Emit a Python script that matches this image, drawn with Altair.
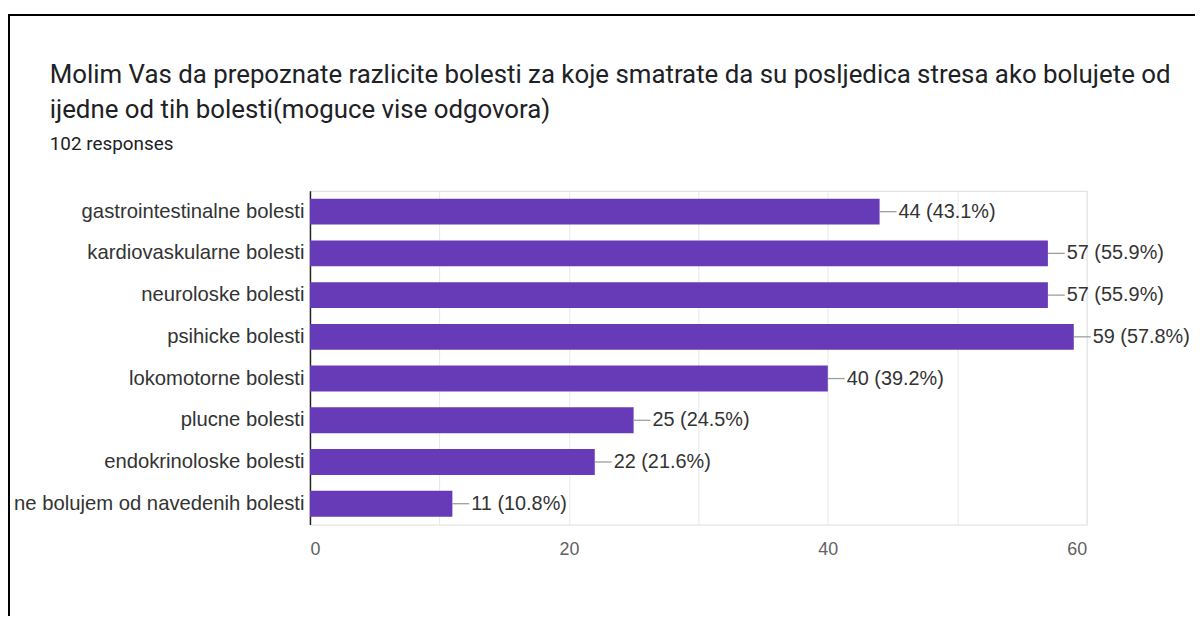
import altair as alt
import pandas as pd

categories = [
    "gastrointestinalne bolesti",
    "kardiovaskularne bolesti",
    "neuroloske bolesti",
    "psihicke bolesti",
    "lokomotorne bolesti",
    "plucne bolesti",
    "endokrinoloske bolesti",
    "ne bolujem od navedenih bolesti",
]
counts = [44, 57, 57, 59, 40, 25, 22, 11]
percents = ["43.1%", "55.9%", "55.9%", "57.8%", "39.2%", "24.5%", "21.6%", "10.8%"]

title_line1 = "Molim Vas da prepoznate razlicite bolesti za koje smatrate da su posljedica stresa ako bolujete od"
title_line2 = "ijedne od tih bolesti(moguce vise odgovora)"
subtitle = "102 responses"

df = pd.DataFrame({
    "category": categories,
    "count": counts,
    "label": [f"{c} ({p})" for c, p in zip(counts, percents)],
})

W, H = 782, 336
PAD_L, PAD_T = 304, 182
PURPLE = "#673ab7"
LABEL_FONT = "Liberation Sans"
TITLE_FONT = "Roboto"

x_enc = alt.X(
    "count:Q",
    scale=alt.Scale(domain=[0, 60], nice=False),
    axis=alt.Axis(
        values=[0, 10, 20, 30, 40, 50, 60],
        labelExpr="datum.value % 20 == 0 ? datum.label : ''",
        title=None, domain=False, ticks=False,
        grid=True, gridColor="#e8e8e8",
        labelFont=LABEL_FONT, labelFontSize=18, labelColor="#5f5f5f",
        labelPadding=16,
    ),
)
y_enc = alt.Y(
    "category:N",
    sort=categories,
    scale=alt.Scale(paddingInner=0.38, paddingOuter=0.19),
    axis=alt.Axis(
        title=None, ticks=False, domain=True, domainColor="#222222", domainWidth=1.5,
        labelFont=LABEL_FONT, labelFontSize=20.4, labelColor="#333333",
        labelPadding=6, labelLimit=400,
    ),
)

bars = alt.Chart(df).mark_bar(color=PURPLE).encode(x=x_enc, y=y_enc)

connectors = alt.Chart(df).mark_rule(color="#9e9e9e", strokeWidth=1.3, x2Offset=17).encode(
    x="count:Q", x2="count:Q", y=alt.Y("category:N", sort=categories)
)

value_text = alt.Chart(df).mark_text(
    align="left", baseline="middle", dx=19, font=LABEL_FONT, fontSize=20, color="#333333"
).encode(x="count:Q", y=alt.Y("category:N", sort=categories), text="label:N")

def header(text, y, size):
    return alt.Chart(pd.DataFrame({"t": [text]})).mark_text(
        align="left", baseline="alphabetic", font=TITLE_FONT, fontSize=size, color="#202124"
    ).encode(x=alt.value(50 - 8 - PAD_L), y=alt.value(y - 8 - PAD_T), text="t:N")

h1 = header(title_line1, 81, 26)
h2 = header(title_line2, 117, 26)
h3 = header(subtitle, 149, 19)

border_data = pd.DataFrame({"k": [0]})
top_border = alt.Chart(border_data).mark_rule(color="#000000", strokeWidth=2).encode(
    x=alt.value(8 - 8 - PAD_L), x2=alt.value(1210 - 8 - PAD_L),
    y=alt.value(13 - 8 - PAD_T),
)
left_border = alt.Chart(border_data).mark_rule(color="#000000", strokeWidth=2).encode(
    x=alt.value(9 - 8 - PAD_L),
    y=alt.value(12 - 8 - PAD_T), y2=alt.value(640 - 8 - PAD_T),
)

chart = alt.layer(
    bars, connectors, value_text, h1, h2, h3, top_border, left_border
).properties(
    width=W, height=H,
    autosize=alt.AutoSizeParams(type="none"),
    padding={"left": PAD_L, "top": PAD_T, "right": 1195 - PAD_L - W, "bottom": 90},
).configure_view(stroke="#e8e8e8", strokeWidth=1).configure(background="white")

chart.save("out.html", embed_options={"renderer": "svg", "actions": False})
